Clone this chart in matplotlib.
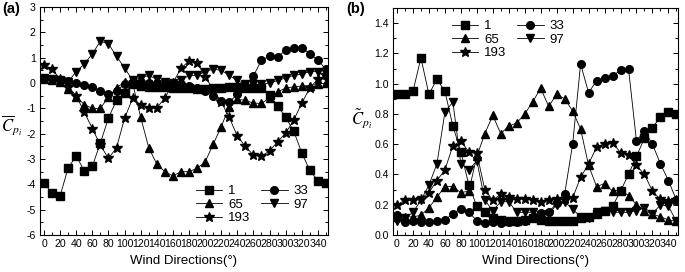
import numpy as np
import matplotlib

matplotlib.use("Agg")
import matplotlib.pyplot as plt
from matplotlib.ticker import MultipleLocator, FormatStrFormatter

plt.rcParams["font.family"] = "Liberation Sans"
plt.rcParams["axes.unicode_minus"] = False
plt.rcParams["mathtext.fontset"] = "stix"

# --- data ---
directions = list(range(0, 360, 10))
taps = ["1", "33", "65", "97", "193"]

# (a) mean pressure coefficient
mean_1 = [-3.95, -4.35, -4.45, -3.35, -2.88, -3.47, -3.28, -2.37, -1.38, -0.68,
          -0.4, -0.05, -0.1, -0.15, -0.15, -0.15, -0.2, -0.2, -0.2, -0.25,
          -0.25, -0.2, -0.2, -0.15, -0.15, -0.2, -0.2, -0.2, -0.47, -0.9,
          -1.35, -1.9, -2.75, -3.45, -3.85, -3.95]
mean_33 = [0.2, 0.15, 0.12, 0.08, 0.0, -0.08, -0.17, -0.3, -0.45, -0.3,
           -0.05, 0.05, 0.05, 0.0, 0.0, 0.0, -0.02, -0.05, -0.1, -0.2,
           -0.3, -0.5, -0.72, -0.75, -0.45, -0.1, 0.28, 0.9, 1.05, 1.02,
           1.3, 1.4, 1.4, 1.15, 0.9, 0.55]
mean_65 = [0.15, 0.1, 0.05, -0.22, -0.55, -0.85, -1.0, -1.0, -0.55, -0.2,
           0.05, 0.0, -1.35, -2.55, -3.2, -3.5, -3.67, -3.5, -3.5, -3.37,
           -3.12, -2.42, -1.73, -0.93, -0.65, -0.68, -0.8, -0.8, -0.6, -0.35,
           -0.2, -0.15, -0.12, -0.1, -0.05, 0.0]
mean_97 = [0.2, 0.15, 0.1, 0.05, 0.45, 0.75, 1.15, 1.65, 1.55, 1.05,
           0.6, 0.1, 0.2, 0.3, 0.15, 0.05, 0.0, 0.1, 0.3, 0.3,
           0.45, 0.55, 0.5, 0.3, 0.1, -0.05, -0.05, -0.05, 0.0, 0.1,
           0.2, 0.3, 0.35, 0.45, 0.45, 0.2]
mean_193 = [0.7, 0.55, 0.15, -0.15, -0.5, -1.15, -1.8, -2.45, -2.98, -2.55,
            -1.4, -0.6, -0.87, -0.98, -0.98, -0.6, 0.0, 0.58, 0.87, 0.8,
            0.25, -0.25, -0.75, -1.35, -2.1, -2.5, -2.85, -2.9, -2.68, -2.32,
            -1.98, -1.47, -0.8, -0.2, 0.15, 0.3]

# (b) fluctuating pressure coefficient
rms_1 = [0.93, 0.93, 0.95, 1.17, 0.93, 1.03, 0.95, 0.72, 0.55, 0.33,
         0.19, 0.15, 0.11, 0.10, 0.09, 0.09, 0.10, 0.11, 0.10, 0.09,
         0.09, 0.09, 0.09, 0.11, 0.12, 0.14, 0.16, 0.19, 0.29, 0.40,
         0.52, 0.64, 0.71, 0.78, 0.81, 0.80]
rms_33 = [0.13, 0.085, 0.09, 0.085, 0.085, 0.09, 0.10, 0.14, 0.175, 0.15,
          0.095, 0.08, 0.085, 0.08, 0.085, 0.085, 0.09, 0.11, 0.145, 0.15,
          0.21, 0.27, 0.60, 1.13, 0.94, 1.02, 1.035, 1.05, 1.09, 1.10,
          0.62, 0.69, 0.60, 0.47, 0.36, 0.23]
rms_65 = [0.12, 0.12, 0.12, 0.13, 0.18, 0.25, 0.32, 0.32, 0.28, 0.29,
          0.52, 0.67, 0.79, 0.67, 0.72, 0.74, 0.80, 0.88, 0.97, 0.85,
          0.93, 0.90, 0.82, 0.70, 0.46, 0.32, 0.34, 0.29, 0.30, 0.26,
          0.20, 0.16, 0.14, 0.12, 0.10, 0.09]
rms_97 = [0.09, 0.11, 0.15, 0.23, 0.33, 0.47, 0.81, 0.88, 0.47, 0.43,
          0.49, 0.23, 0.16, 0.22, 0.22, 0.15, 0.15, 0.15, 0.13, 0.14,
          0.20, 0.22, 0.17, 0.12, 0.11, 0.15, 0.16, 0.15, 0.15, 0.15,
          0.16, 0.18, 0.14, 0.20, 0.19, 0.09]
rms_193 = [0.20, 0.23, 0.23, 0.24, 0.28, 0.36, 0.43, 0.59, 0.62, 0.55,
           0.54, 0.30, 0.23, 0.27, 0.25, 0.24, 0.24, 0.23, 0.215, 0.23,
           0.24, 0.24, 0.245, 0.38, 0.47, 0.58, 0.60, 0.61, 0.545, 0.53,
           0.46, 0.40, 0.29, 0.235, 0.225, 0.23]

markers = {"1": "s", "33": "o", "65": "^", "97": "v", "193": "*"}
sizes = {"1": 5.2, "33": 5.5, "65": 6, "97": 6, "193": 7.5}
legend_order = ["1", "65", "193", "33", "97"]

W, H = 685, 272
fig = plt.figure(figsize=(W / 100, H / 100), dpi=100)
ax_a = fig.add_axes([40 / W, 1 - 235 / H, 287.5 / W, 228 / H])
ax_b = fig.add_axes([393 / W, 1 - 235 / H, 285 / W, 227 / H])

panels = [
    (ax_a, [mean_1, mean_33, mean_65, mean_97, mean_193], (196 / W, 1 - 185 / H)),
    (ax_b, [rms_1, rms_33, rms_65, rms_97, rms_193], (452 / W, 1 - 20 / H)),
]

for ax, series, anchor in panels:
    lines = {}
    for tap, vals in zip(taps, series):
        (ln,) = ax.plot(directions, vals, color="black", lw=0.6,
                        marker=markers[tap], ms=sizes[tap], mfc="black",
                        mec="black", label=tap)
        lines[tap] = ln
    ax.set_xlim(-5, 352)
    ax.xaxis.set_major_locator(MultipleLocator(20))
    ax.xaxis.set_minor_locator(MultipleLocator(10))
    ax.tick_params(which="both", direction="in", top=True, right=True,
                   labelsize=7.6, pad=3, width=0.7)
    ax.tick_params(which="major", length=3.5)
    ax.tick_params(which="minor", length=2)
    for s in ax.spines.values():
        s.set_linewidth(0.8)
    ax.set_xlabel("Wind Directions(°)", fontsize=9.5, labelpad=4)
    ax.legend([lines[t] for t in legend_order], legend_order, ncol=2,
              frameon=False, fontsize=9.5, borderpad=0, borderaxespad=0,
              handlelength=2.0, handletextpad=0.45, columnspacing=0.8,
              labelspacing=0.1, loc="upper left", bbox_to_anchor=anchor,
              bbox_transform=fig.transFigure)

ax_a.set_ylim(-6, 3)
ax_a.yaxis.set_major_locator(MultipleLocator(1))
ax_a.yaxis.set_minor_locator(MultipleLocator(0.5))

ax_b.set_ylim(0, 1.5)
ax_b.yaxis.set_major_locator(MultipleLocator(0.2))
ax_b.yaxis.set_minor_locator(MultipleLocator(0.1))
ax_b.yaxis.set_major_formatter(FormatStrFormatter("%.1f"))

fig.text(2 / W, 1 - 2 / H, "(a)", fontsize=10.5, fontweight="bold", va="top")
fig.text(346 / W, 1 - 2 / H, "(b)", fontsize=10.5, fontweight="bold", va="top")
fig.text(12 / W, 1 - 125 / H, r"$\overline{C}_{p_i}$", fontsize=12,
         ha="center", va="center")
fig.text(362 / W, 1 - 118 / H, r"$\tilde{C}_{p_i}$", fontsize=12,
         ha="center", va="center")

fig.savefig("out.png", dpi=100)
